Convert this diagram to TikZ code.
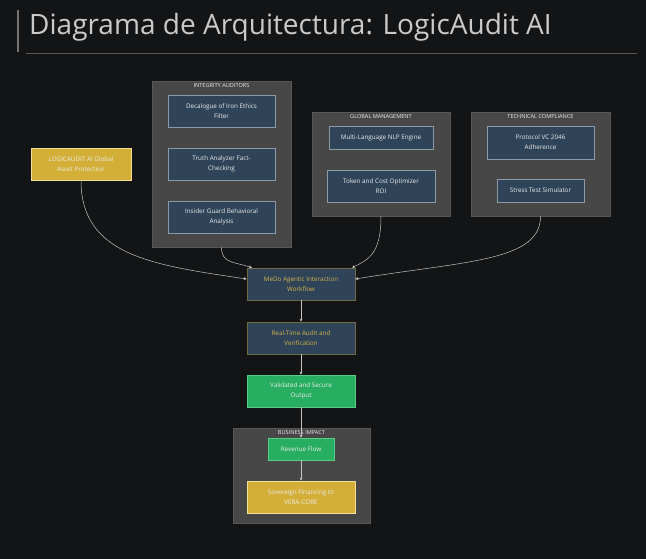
\documentclass[tikz,border=0pt]{standalone}
\usepackage{fontspec}
\setmainfont{Open Sans}
\usetikzlibrary{positioning, arrows.meta, calc}

\definecolor{pagebg}{HTML}{131416}
\definecolor{grpfill}{HTML}{474747}
\definecolor{grpline}{HTML}{575757}
\definecolor{bluefill}{HTML}{2F4459}
\definecolor{blueline}{HTML}{8C9AA8}
\definecolor{goldtext}{HTML}{D4B44A}
\definecolor{goldline}{HTML}{6F6A42}
\definecolor{greenfill}{HTML}{27AE60}
\definecolor{greenline}{HTML}{5ACB86}
\definecolor{goldfill}{HTML}{D4AF37}
\definecolor{goldedge}{HTML}{F2DE94}
\definecolor{linkcol}{HTML}{C4C4C4}
\definecolor{titlecol}{HTML}{CACACA}

\begin{document}
\begin{tikzpicture}[
        x=1pt, y=-1pt,
        grp/.style={draw=grpline, fill=grpfill, rectangle, line width=0.8pt},
        grplabel/.style={font=\fontsize{5.6}{6}\selectfont, text=white!92!black, inner sep=0pt},
        comp/.style={draw=blueline, fill=bluefill, rectangle, line width=0.6pt, align=center,
            text=white!92!black, font=\fontsize{6.3}{10}\selectfont, minimum width=107pt, minimum height=32pt, inner sep=1pt},
        flow/.style={comp, draw=goldline, text=goldtext},
        okbox/.style={comp, draw=greenline, fill=greenfill},
        goldbox/.style={comp, draw=goldedge, fill=goldfill},
        link/.style={-{Stealth[length=3pt, width=3pt]}, draw=linkcol, line width=0.5pt}
    ]
    \fill[pagebg] (0,0) rectangle (646,559);
    \useasboundingbox (0,0) rectangle (646,559);

    % title
    \draw[draw=black!55, line width=2.5pt] (18,10) -- (18,52);
    \draw[draw=black!65, line width=0.6pt] (26,53) -- (637,53);
    \node[anchor=west, text=titlecol, font=\fontsize{28}{30}\selectfont, inner sep=0pt] (title) at (29,27) {Diagrama de Arquitectura: LogicAudit AI};

    % groups
    \node[grp, minimum width=139pt, minimum height=166pt] (integ) at (221.5,164) {};
    \node[grp, minimum width=138pt, minimum height=104pt] (glob) at (381,164) {};
    \node[grp, minimum width=139pt, minimum height=104pt] (tech) at (540.5,164) {};
    \node[grp, minimum width=137pt, minimum height=95pt] (biz) at (301.5,475.5) {};
    \node[grplabel, below=3pt of integ.north] (integlbl) {INTEGRITY AUDITORS};
    \node[grplabel, below=3pt of glob.north] (globlbl) {GLOBAL MANAGEMENT};
    \node[grplabel, below=3pt of tech.north] (techlbl) {TECHNICAL COMPLIANCE};
    \node[grplabel, below=3pt of biz.north] (bizlbl) {BUSINESS IMPACT};

    % components
    \node[goldbox, minimum width=100pt] (guard) at (81,164) {LOGICAUDIT AI Global\\Asset Protection};
    \node[comp] (ethics) at (221.5,111) {Decalogue of Iron Ethics\\Filter};
    \node[comp] (truth) at (221.5,164) {Truth Analyzer Fact-\\Checking};
    \node[comp] (insider) at (221.5,217) {Insider Guard Behavioral\\Analysis};
    \node[comp, minimum width=104pt, minimum height=23pt] (nlp) at (381,137.5) {Multi-Language NLP Engine};
    \node[comp, minimum width=108pt] (token) at (381,186) {Token and Cost Optimizer\\ROI};
    \node[comp, minimum height=33pt] (proto) at (540.5,142.5) {Protocol VC 2046\\Adherence};
    \node[comp, minimum width=87pt, minimum height=23pt] (stress) at (540.5,190.5) {Stress Test Simulator};

    \node[flow, minimum width=108pt] (medo) at (301,284) {MeDo Agentic Interaction\\Workflow};
    \node[flow, minimum width=108pt] (audit) at (301,338) {Real-Time Audit and\\Verification};
    \node[okbox, minimum width=108pt] (output) at (301,391) {Validated and Secure\\Output};
    \node[okbox, minimum width=66pt, minimum height=22pt] (revenue) at (301,449) {Revenue Flow};
    \node[goldbox, minimum width=108pt] (sovereign) at (301,497) {Sovereign Financing to\\VERA-CORE};

    % links
    \draw[link] (guard.south) .. controls +(0,75) and +(-95,-14) .. ([yshift=5pt]medo.west);
    \draw[link] (integ.south) .. controls +(0,16) and +(-18,-6) .. ([xshift=-49pt]medo.north);
    \draw[link] (glob.south) .. controls +(0,38) and +(16,-8) .. ([xshift=51pt]medo.north);
    \draw[link] (tech.south) .. controls +(0,45) and +(110,-18) .. ([yshift=5pt]medo.east);
    \draw[link] (medo) -- (audit);
    \draw[link] (audit) -- (output);
    \draw[link] (output) -- (revenue);
    \draw[link] (revenue) -- (sovereign);
\end{tikzpicture}
\end{document}
